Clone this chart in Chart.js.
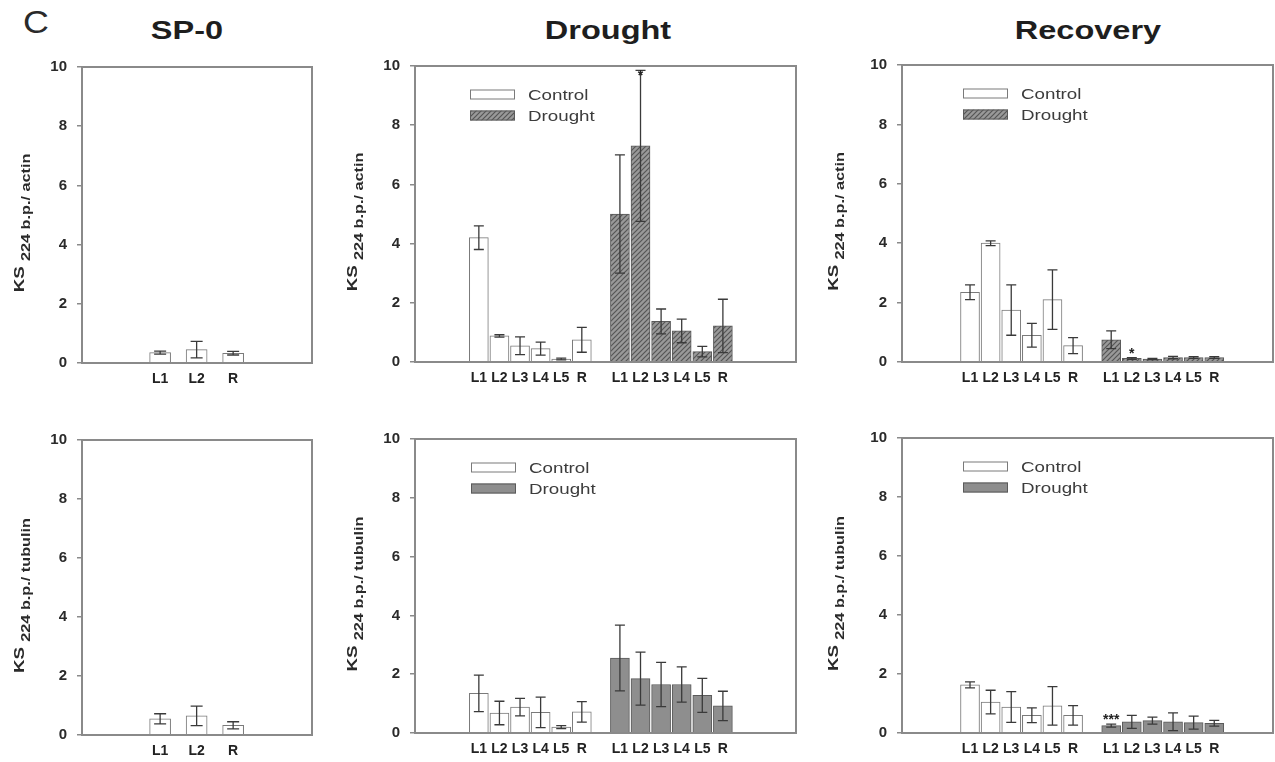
<!DOCTYPE html>
<html>
<head>
<meta charset="utf-8">
<script src="https://cdn.jsdelivr.net/npm/chart.js@4.4.1/dist/chart.umd.min.js"></script>
<style>
  body { margin: 0; width: 1275px; height: 762px; overflow: hidden; background: #fff; position: relative; font-family: Arial, "Liberation Sans", sans-serif; }
  canvas { position: absolute; }
  .title { position: absolute; font-weight: bold; font-size: 25px; line-height: 25px; color: #1e1e1e; white-space: nowrap; transform: translateX(-50%) scaleX(1.3); }
  .letter { position: absolute; left: 23px; top: 6px; font-size: 32px; line-height: 32px; color: #2a2a2a; transform: scaleX(1.12); transform-origin: left; }
</style>
</head>
<body>
<div class="letter">C</div>
<div class="title" style="left:187px;top:18px">SP-0</div>
<div class="title" style="left:608px;top:18px">Drought</div>
<div class="title" style="left:1088px;top:18px">Recovery</div>
<canvas id="a"></canvas>
<canvas id="b"></canvas>
<canvas id="c"></canvas>
<canvas id="d"></canvas>
<canvas id="e"></canvas>
<canvas id="f"></canvas>
<script>
// categories
const tissues = ['L1', 'L2', 'L3', 'L4', 'L5', 'R'];
const sp0Tissues = ['L1', 'L2', 'R'];
const seriesNames = ['Control', 'Drought'];
const yTickValues = [0, 2, 4, 6, 8, 10];

// SP-0 (no treatment)
const sp0Actin = [0.35, 0.45, 0.33];
const sp0ActinErr = [0.05, 0.28, 0.06];
const sp0Tub = [0.55, 0.65, 0.33];
const sp0TubErr = [0.17, 0.33, 0.12];

// Drought, normalised to actin
const drActinCtrl = [4.2, 0.88, 0.55, 0.45, 0.1, 0.75];
const drActinCtrlErr = [0.4, 0.04, 0.3, 0.22, 0.03, 0.42];
const drActinDrt = [5.0, 7.3, 1.37, 1.05, 0.35, 1.22];
const drActinDrtErr = [2.0, 2.55, 0.42, 0.4, 0.18, 0.9];
const drActinSig = ['', '*', '', '', '', ''];

// Recovery, normalised to actin
const recActinCtrl = [2.35, 4.0, 1.75, 0.9, 2.1, 0.55];
const recActinCtrlErr = [0.25, 0.08, 0.85, 0.4, 1.0, 0.27];
const recActinDrt = [0.75, 0.12, 0.1, 0.15, 0.15, 0.15];
const recActinDrtErr = [0.3, 0.03, 0.02, 0.04, 0.03, 0.03];
const recActinSig = ['', '*', '', '', '', ''];

// Drought, normalised to tubulin
const drTubCtrl = [1.35, 0.68, 0.88, 0.7, 0.2, 0.72];
const drTubCtrlErr = [0.62, 0.4, 0.3, 0.52, 0.05, 0.35];
const drTubDrt = [2.55, 1.85, 1.65, 1.65, 1.28, 0.92];
const drTubDrtErr = [1.12, 0.9, 0.75, 0.6, 0.58, 0.5];

// Recovery, normalised to tubulin
const recTubCtrl = [1.63, 1.05, 0.88, 0.6, 0.92, 0.6];
const recTubCtrlErr = [0.1, 0.4, 0.52, 0.25, 0.65, 0.33];
const recTubDrt = [0.25, 0.38, 0.42, 0.38, 0.35, 0.33];
const recTubDrtErr = [0.05, 0.22, 0.12, 0.3, 0.22, 0.1];
const recTubSig = ['***', '', '', '', '', ''];

const GROUP_SHIFT = 6.85; // drought group sits after a gap
const FONT = 'Arial, "Liberation Sans", sans-serif';

function hatchFor(id) {
  const c = document.createElement('canvas');
  c.width = 5; c.height = 5;
  const g = c.getContext('2d');
  g.fillStyle = '#999999';
  g.fillRect(0, 0, 5, 5);
  g.strokeStyle = '#565656';
  g.lineWidth = 1.2;
  g.beginPath();
  g.moveTo(0, 5); g.lineTo(5, 0);
  g.moveTo(-1, 1); g.lineTo(1, -1);
  g.moveTo(4, 6); g.lineTo(6, 4);
  g.stroke();
  return document.getElementById(id).getContext('2d').createPattern(c, 'repeat');
}

// frame around plot area
const framePlugin = {
  id: 'frame',
  afterDatasetsDraw(chart) {
    const { ctx, chartArea: a } = chart;
    ctx.save();
    ctx.strokeStyle = '#8a8a8a';
    ctx.lineWidth = 2;
    ctx.strokeRect(a.left, a.top, a.right - a.left, a.bottom - a.top);
    ctx.restore();
  }
};

// error bars + significance marks
const errorBarPlugin = {
  id: 'errBars',
  afterDatasetsDraw(chart, args, o) {
    const { ctx, chartArea: a } = chart;
    const ys = chart.scales.y;
    ctx.save();
    ctx.strokeStyle = '#3a3a3a';
    ctx.lineWidth = 1.3;
    chart.data.datasets.forEach((ds, di) => {
      const meta = chart.getDatasetMeta(di);
      meta.data.forEach((bar, i) => {
        const v = ds.data[i].y, e = ds.err[i];
        const top = ys.getPixelForValue(v + e);
        const bot = ys.getPixelForValue(Math.max(v - e, 0));
        const h = o.cap / 2;
        ctx.beginPath();
        ctx.moveTo(bar.x, bot); ctx.lineTo(bar.x, top);
        ctx.moveTo(bar.x - h, top); ctx.lineTo(bar.x + h, top);
        ctx.moveTo(bar.x - h, bot); ctx.lineTo(bar.x + h, bot);
        ctx.stroke();
        if (ds.sig && ds.sig[i]) {
          const cy = Math.max(top - 8, a.top + 6);
          ctx.fillStyle = '#222';
          ctx.font = 'bold 14px ' + FONT;
          ctx.textAlign = 'center';
          ctx.textBaseline = 'alphabetic';
          ctx.fillText(ds.sig[i], bar.x, cy + 8);
        }
      });
    });
    ctx.restore();
  }
};

// legend inside the plot
const legendPlugin = {
  id: 'boxLegend',
  afterDraw(chart, args, o) {
    if (!o.show) return;
    const { ctx, chartArea: a } = chart;
    chart.data.datasets.forEach((ds, i) => {
      const x = a.left + o.x, y = a.top + o.y + i * 21;
      ctx.save();
      ctx.fillStyle = ds.backgroundColor;
      ctx.fillRect(x, y - 5, 45, 10);
      ctx.strokeStyle = ds.borderColor;
      ctx.lineWidth = 1;
      ctx.strokeRect(x + 0.5, y - 4.5, 44, 9);
      ctx.translate(x + 58, y);
      ctx.scale(1.25, 1);
      ctx.font = '15px ' + FONT;
      ctx.fillStyle = '#3c3c3c';
      ctx.textBaseline = 'middle';
      ctx.fillText(ds.label, 0, 1);
      ctx.restore();
    });
  }
};

// rotated y title with subscript
const yTitlePlugin = {
  id: 'yTitle',
  afterDraw(chart, args, o) {
    const { ctx, chartArea: a } = chart;
    const x = a.left - o.offset;
    const y = (a.top + a.bottom) / 2 + 8;
    ctx.save();
    ctx.translate(x, y);
    ctx.rotate(-Math.PI / 2);
    ctx.scale(1.25, 1);
    ctx.font = 'bold 15px ' + FONT;
    const w1 = ctx.measureText('KS ').width;
    ctx.font = 'bold 13px ' + FONT;
    const w2 = ctx.measureText(o.sub).width;
    const start = -(w1 + w2) / 2;
    ctx.fillStyle = '#2a2a2a';
    ctx.textAlign = 'left';
    ctx.font = 'bold 15px ' + FONT;
    ctx.fillText('KS', start, 6);
    ctx.font = 'bold 13px ' + FONT;
    ctx.fillText(o.sub, start + w1, 12);
    ctx.restore();
  }
};

function makeDataset(label, names, values, err, sig, shift, fill, edge, thick) {
  return {
    label: label,
    data: values.map((v, i) => ({ x: i + 1 + shift, y: v })),
    names: names,
    err: err,
    sig: sig,
    backgroundColor: fill,
    borderColor: edge,
    borderWidth: 1,
    barThickness: thick,
    grouped: false
  };
}

function makePanel(p) {
  const padLeft = 40, axisW = 45, padTop = 12, axisH = 28;
  const cv = document.getElementById(p.id);
  const left = p.box[0] - padLeft - axisW;
  const top = p.box[1] - padTop;
  const w = p.box[2] - left + 8;
  const h = p.box[3] - top + axisH + 2;
  cv.style.left = left + 'px';
  cv.style.top = top + 'px';
  cv.width = w; cv.height = h;

  const tickPos = [], tickName = {};
  p.datasets.forEach(ds => ds.data.forEach((d, i) => {
    tickPos.push(d.x);
    tickName[d.x.toFixed(2)] = ds.names[i];
  }));

  new Chart(cv, {
    type: 'bar',
    data: { datasets: p.datasets },
    options: {
      responsive: false,
      animation: false,
      devicePixelRatio: 1,
      layout: { padding: { left: padLeft, top: padTop, right: 8, bottom: 2 } },
      plugins: {
        legend: { display: false },
        tooltip: { enabled: false },
        errBars: { cap: p.cap },
        boxLegend: { show: p.legend, x: p.legX, y: 28.5 },
        yTitle: { sub: p.sub, offset: p.lblOff }
      },
      scales: {
        x: {
          type: 'linear',
          min: p.xr[0], max: p.xr[1],
          offset: false,
          grid: { display: false, drawTicks: false },
          border: { display: false },
          afterBuildTicks: s => { s.ticks = tickPos.map(v => ({ value: v })); },
          afterFit: s => { s.height = axisH; },
          ticks: {
            autoSkip: false, maxRotation: 0, padding: 8,
            color: '#222',
            font: { family: FONT, size: 14, weight: 'bold' },
            callback: v => tickName[Number(v).toFixed(2)] || ''
          }
        },
        y: {
          min: 0, max: 10,
          grid: { drawOnChartArea: false, drawTicks: true, tickLength: 5, color: '#8a8a8a', lineWidth: 1.5 },
          border: { display: false },
          afterBuildTicks: s => { s.ticks = yTickValues.map(v => ({ value: v })); },
          afterFit: s => { s.width = axisW; },
          ticks: {
            padding: 10,
            color: '#2a2a2a',
            font: { family: FONT, size: 15, weight: 'bold' }
          }
        }
      }
    },
    plugins: [framePlugin, errorBarPlugin, legendPlugin, yTitlePlugin]
  });
}

const WHITE = '#ffffff', EDGE_C = '#7a7a7a', EDGE_D = '#5a5a5a', SOLID = '#8e8e8e';

makePanel({
  id: 'a', box: [82, 60, 312, 363], xr: [-1.14, 5.16], cap: 12, legend: false,
  sub: '224 b.p./ actin', lblOff: 64,
  datasets: [makeDataset(seriesNames[0], sp0Tissues, sp0Actin, sp0ActinErr, null, 0, WHITE, EDGE_C, 21)]
});
makePanel({
  id: 'b', box: [415, 59, 796, 362], xr: [-2.1, 16.4], cap: 10, legend: true, legX: 55,
  sub: '224 b.p./ actin', lblOff: 64,
  datasets: [
    makeDataset(seriesNames[0], tissues, drActinCtrl, drActinCtrlErr, null, 0, WHITE, EDGE_C, 19),
    makeDataset(seriesNames[1], tissues, drActinDrt, drActinDrtErr, drActinSig, GROUP_SHIFT, hatchFor('b'), EDGE_D, 19)
  ]
});
makePanel({
  id: 'c', box: [902, 58, 1273, 362], xr: [-2.3, 15.7], cap: 10, legend: true, legX: 61,
  sub: '224 b.p./ actin', lblOff: 70,
  datasets: [
    makeDataset(seriesNames[0], tissues, recActinCtrl, recActinCtrlErr, null, 0, WHITE, EDGE_C, 19),
    makeDataset(seriesNames[1], tissues, recActinDrt, recActinDrtErr, recActinSig, GROUP_SHIFT, hatchFor('c'), EDGE_D, 19)
  ]
});
makePanel({
  id: 'd', box: [82, 433, 312, 735], xr: [-1.14, 5.16], cap: 12, legend: false,
  sub: '224 b.p./ tubulin', lblOff: 64,
  datasets: [makeDataset(seriesNames[0], sp0Tissues, sp0Tub, sp0TubErr, null, 0, WHITE, EDGE_C, 21)]
});
makePanel({
  id: 'e', box: [415, 432, 796, 733], xr: [-2.1, 16.4], cap: 10, legend: true, legX: 56,
  sub: '224 b.p./ tubulin', lblOff: 64,
  datasets: [
    makeDataset(seriesNames[0], tissues, drTubCtrl, drTubCtrlErr, null, 0, WHITE, EDGE_C, 19),
    makeDataset(seriesNames[1], tissues, drTubDrt, drTubDrtErr, null, GROUP_SHIFT, SOLID, EDGE_D, 19)
  ]
});
makePanel({
  id: 'f', box: [902, 431, 1273, 733], xr: [-2.3, 15.7], cap: 10, legend: true, legX: 61,
  sub: '224 b.p./ tubulin', lblOff: 70,
  datasets: [
    makeDataset(seriesNames[0], tissues, recTubCtrl, recTubCtrlErr, null, 0, WHITE, EDGE_C, 19),
    makeDataset(seriesNames[1], tissues, recTubDrt, recTubDrtErr, recTubSig, GROUP_SHIFT, SOLID, EDGE_D, 19)
  ]
});
</script>
</body>
</html>
